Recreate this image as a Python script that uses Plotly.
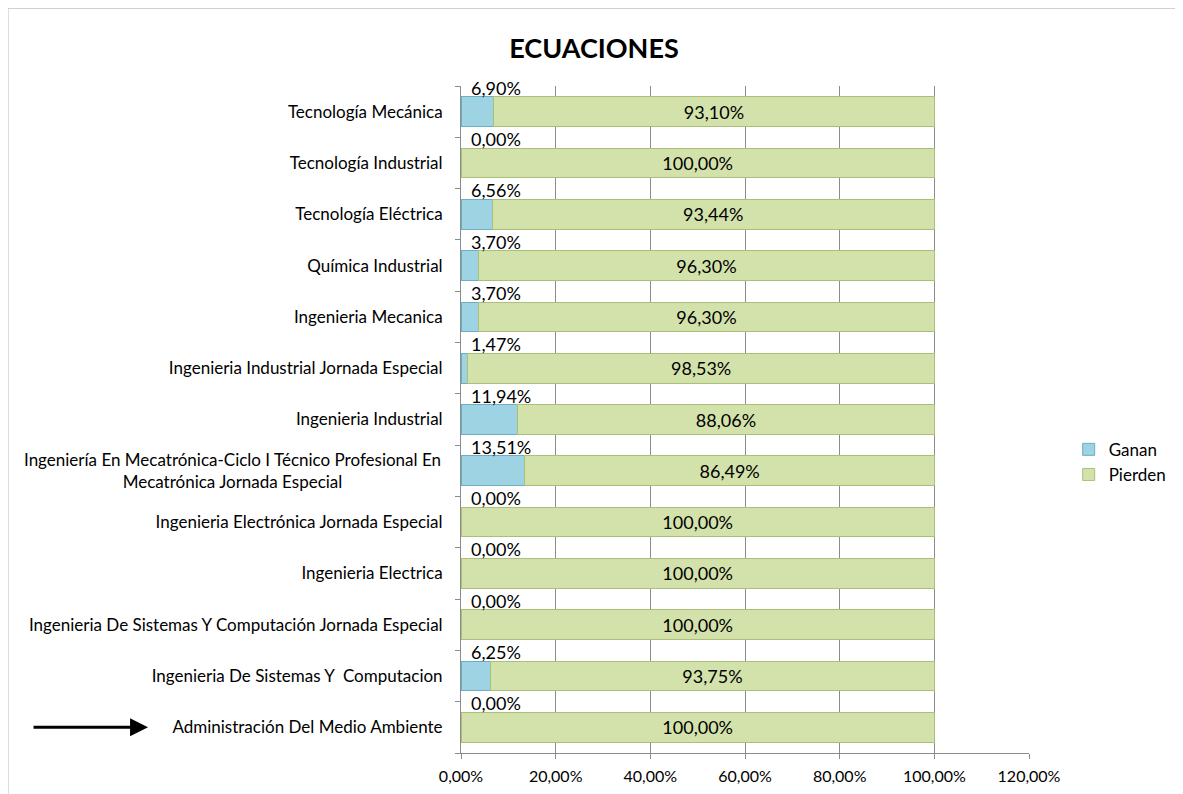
"""
Stacked horizontal bar chart: ECUACIONES, Ganan vs Pierden per programme.
"""
import plotly.graph_objects as go

# categories listed bottom-to-top (plotly draws the first category at the bottom)
programas = [
    'Administración Del Medio Ambiente',
    'Ingenieria De Sistemas Y  Computacion',
    'Ingenieria De Sistemas Y Computación Jornada Especial',
    'Ingenieria Electrica',
    'Ingenieria Electrónica Jornada Especial',
    'Ingeniería En Mecatrónica-Ciclo I Técnico Profesional En<br>Mecatrónica Jornada Especial',
    'Ingenieria Industrial',
    'Ingenieria Industrial Jornada Especial',
    'Ingenieria Mecanica',
    'Química Industrial',
    'Tecnología Eléctrica',
    'Tecnología Industrial',
    'Tecnología Mecánica',
]
ganan = [0.0, 0.0625, 0.0, 0.0, 0.0, 0.1351, 0.1194, 0.0147, 0.0370, 0.0370, 0.0656, 0.0, 0.0690]
pierden = [1.0, 0.9375, 1.0, 1.0, 1.0, 0.8649, 0.8806, 0.9853, 0.9630, 0.9630, 0.9344, 1.0, 0.9310]
x_ticks = [0, 0.2, 0.4, 0.6, 0.8, 1.0, 1.2]

FONT = 'Lato, Carlito, Calibri, sans-serif'

fig = go.Figure()

fig.add_trace(go.Bar(
    y=programas,
    x=ganan,
    orientation='h',
    name='Ganan',
    marker=dict(color='#9ED3E3', line=dict(color='#6AAFC3', width=1)),
))

fig.add_trace(go.Bar(
    y=programas,
    x=pierden,
    orientation='h',
    name='Pierden',
    marker=dict(color='#D3E2AB', line=dict(color='#A9BF7A', width=1)),
    texttemplate='%{x:.2%}',
    textposition='inside',
    insidetextanchor='middle',
    textfont=dict(size=18, color='black', family=FONT),
    textangle=0,
))

# Ganan labels sit above the bar, at its left end
annotations = []
for prog, val in zip(programas, ganan):
    annotations.append(dict(
        x=0, y=prog, xref='x', yref='y',
        text=f'{val * 100:.2f}%'.replace('.', ','),
        showarrow=False,
        xanchor='left', yanchor='middle',
        xshift=8, yshift=24,
        font=dict(size=18, color='black', family=FONT),
    ))

# multi-line category label drawn centred, like the original
tick_text = []
for prog in programas:
    if '<br>' in prog:
        tick_text.append('')
        annotations.append(dict(
            x=0, y=prog, xref='paper', yref='y',
            text=prog, showarrow=False,
            xanchor='right', yanchor='middle', align='center',
            xshift=-18,
            font=dict(size=17, color='black', family=FONT),
        ))
    else:
        tick_text.append(prog)

# arrow pointing at the first programme
annotations.append(dict(
    x=-0.551, y=programas[0], xref='paper', yref='y',
    ax=-116, ay=0, axref='pixel', ayref='pixel',
    showarrow=True, arrowhead=2, arrowsize=1.2, arrowwidth=3,
    arrowcolor='black', text='',
))

fig.update_layout(
    title=dict(
        text='<b>ECUACIONES</b>',
        x=0.4987, xanchor='center',
        y=0.949, yanchor='middle',
        font=dict(size=27, color='black', family=FONT),
    ),
    barmode='stack',
    bargap=0.42,
    separators=',.',
    width=1175,
    height=786,
    margin=dict(l=453, r=154, t=78, b=41, autoexpand=False),
    plot_bgcolor='white',
    paper_bgcolor='white',
    font=dict(family=FONT, size=17, color='black'),
    legend=dict(
        xref='container', yref='container',
        x=0.9027, y=0.422, xanchor='left', yanchor='middle',
        traceorder='normal',
        font=dict(size=17, family=FONT),
        itemwidth=30,
        tracegroupgap=0,
    ),
    annotations=annotations,
    shapes=[dict(
        type='rect', xref='paper', yref='paper',
        x0=-0.7975, x1=1.2588, y0=-0.12, y1=1.1166,
        line=dict(color='#BFBFBF', width=1),
        layer='below',
    )],
    showlegend=True,
)

fig.update_xaxes(
    range=[0, 1.2],
    tickvals=x_ticks,
    tickformat='.2%',
    showgrid=True,
    gridcolor='#8C8C8C',
    gridwidth=1,
    showline=True,
    linecolor='#8C8C8C',
    ticks='outside',
    ticklen=5,
    tickcolor='#8C8C8C',
    tickfont=dict(size=16, family=FONT),
    ticklabelstandoff=4,
    zeroline=False,
)

fig.update_yaxes(
    range=[-0.5, len(programas) - 0.5],
    tickmode='array',
    tickvals=programas,
    ticktext=tick_text,
    showline=True,
    linecolor='#8C8C8C',
    ticks='outside',
    tickson='boundaries',
    ticklen=5,
    tickcolor='#8C8C8C',
    tickfont=dict(size=17, family=FONT),
    ticklabelstandoff=14,
)

fig.write_html('out.html')
